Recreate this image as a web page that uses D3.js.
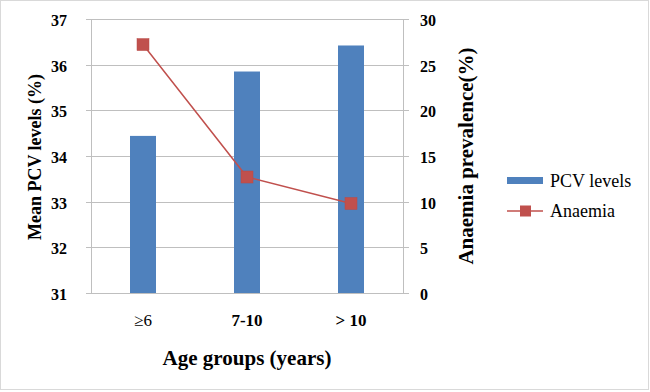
<!DOCTYPE html>
<html>

<head>
    <title>PCV levels and anaemia by age group</title>
    <script src="https://d3js.org/d3.v7.min.js"></script>
</head>

<body style="margin:0; background:#fff">
    <svg id="chart"></svg>

    <script>
        // Data
        const ageGroups = ['\u22656', '7-10', '> 10'];
        const pcvLevels = [34.44, 35.85, 36.42];
        const anaemia = [27.2, 12.7, 9.8];
        const leftTicks = [31, 32, 33, 34, 35, 36, 37];
        const rightTicks = [0, 5, 10, 15, 20, 25, 30];

        const width = 650;
        const height = 392;
        const plot = { left: 91, right: 403, top: 19, bottom: 293 };

        const svg = d3.select('#chart')
            .attr('width', width)
            .attr('height', height)
            .style('font-family', '"Liberation Serif", "Times New Roman", Tinos, serif');

        // outer frame
        svg.append('rect')
            .attr('x', 0.5).attr('y', 0.5)
            .attr('width', 648).attr('height', 389)
            .attr('fill', '#fff')
            .attr('stroke', '#d9d9d9');

        const x = d3.scaleBand()
            .domain(ageGroups)
            .range([plot.left, plot.right]);

        const yLeft = d3.scaleLinear()
            .domain([31, 37])
            .range([plot.bottom, plot.top]);

        const yRight = d3.scaleLinear()
            .domain([0, 30])
            .range([plot.bottom, plot.top]);

        // gridlines (with the little tick stubs on both sides)
        svg.append('g')
            .selectAll('line')
            .data(leftTicks)
            .enter()
            .append('line')
            .attr('x1', plot.left - 5)
            .attr('x2', plot.right + 6)
            .attr('y1', d => Math.round(yLeft(d)) + 0.5)
            .attr('y2', d => Math.round(yLeft(d)) + 0.5)
            .attr('stroke', '#bfbfbf');

        // axis lines
        svg.append('line')
            .attr('x1', plot.left + 0.5).attr('x2', plot.left + 0.5)
            .attr('y1', plot.top).attr('y2', plot.bottom)
            .attr('stroke', '#bfbfbf');
        svg.append('line')
            .attr('x1', plot.right + 0.5).attr('x2', plot.right + 0.5)
            .attr('y1', plot.top).attr('y2', plot.bottom)
            .attr('stroke', '#bfbfbf');

        // left tick labels
        svg.append('g')
            .selectAll('text')
            .data(leftTicks)
            .enter()
            .append('text')
            .attr('x', 67)
            .attr('y', d => yLeft(d) + 7)
            .attr('text-anchor', 'end')
            .attr('font-size', 16)
            .attr('font-weight', 'bold')
            .text(d => d);

        // right tick labels
        svg.append('g')
            .selectAll('text')
            .data(rightTicks)
            .enter()
            .append('text')
            .attr('x', 420)
            .attr('y', d => yRight(d) + 7)
            .attr('text-anchor', 'start')
            .attr('font-size', 16)
            .attr('font-weight', 'bold')
            .text(d => d);

        // bars
        const barWidth = x.bandwidth() * 0.25;
        svg.append('g')
            .selectAll('rect')
            .data(pcvLevels)
            .enter()
            .append('rect')
            .attr('x', (d, i) => x(ageGroups[i]) + x.bandwidth() / 2 - barWidth / 2)
            .attr('y', d => yLeft(d))
            .attr('width', barWidth)
            .attr('height', d => plot.bottom - yLeft(d))
            .attr('fill', '#4f81bd');

        // anaemia line
        const line = d3.line()
            .x((d, i) => x(ageGroups[i]) + x.bandwidth() / 2)
            .y(d => yRight(d));

        svg.append('path')
            .datum(anaemia)
            .attr('d', line)
            .attr('fill', 'none')
            .attr('stroke', '#c0504d')
            .attr('stroke-width', 1.5);

        svg.append('g')
            .selectAll('rect')
            .data(anaemia)
            .enter()
            .append('rect')
            .attr('x', (d, i) => x(ageGroups[i]) + x.bandwidth() / 2 - 6)
            .attr('y', d => yRight(d) - 6)
            .attr('width', 12)
            .attr('height', 12)
            .attr('fill', '#c0504d')
            .attr('stroke', '#b84a47')
            .attr('stroke-width', 0.5);

        // category labels
        svg.append('g')
            .selectAll('text')
            .data(ageGroups)
            .enter()
            .append('text')
            .attr('x', d => x(d) + x.bandwidth() / 2)
            .attr('y', 326)
            .attr('text-anchor', 'middle')
            .attr('font-size', 17)
            .attr('font-weight', (d, i) => i === 0 ? 'normal' : 'bold')
            .text(d => d);

        // axis titles
        svg.append('text')
            .attr('x', (plot.left + plot.right) / 2)
            .attr('y', 365)
            .attr('text-anchor', 'middle')
            .attr('font-size', 21)
            .attr('font-weight', 'bold')
            .text('Age groups (years)');

        svg.append('text')
            .attr('transform', 'translate(41,157) rotate(-90)')
            .attr('text-anchor', 'middle')
            .attr('font-size', 18)
            .attr('font-weight', 'bold')
            .text('Mean PCV levels (%)');

        svg.append('text')
            .attr('transform', 'translate(473,156) rotate(-90)')
            .attr('text-anchor', 'middle')
            .attr('font-size', 21)
            .attr('font-weight', 'bold')
            .text('Anaemia prevalence(%)');

        // legend
        const legend = svg.append('g');
        legend.append('rect')
            .attr('x', 507).attr('y', 177)
            .attr('width', 36).attr('height', 7)
            .attr('fill', '#4f81bd');
        legend.append('text')
            .attr('x', 550).attr('y', 187)
            .attr('font-size', 18)
            .text('PCV levels');
        legend.append('line')
            .attr('x1', 507).attr('x2', 543)
            .attr('y1', 211).attr('y2', 211)
            .attr('stroke', '#c0504d')
            .attr('stroke-width', 1.5);
        legend.append('rect')
            .attr('x', 520).attr('y', 205.5)
            .attr('width', 11).attr('height', 11)
            .attr('fill', '#c0504d');
        legend.append('text')
            .attr('x', 550).attr('y', 217)
            .attr('font-size', 18)
            .text('Anaemia');
    </script>
</body>

</html>
